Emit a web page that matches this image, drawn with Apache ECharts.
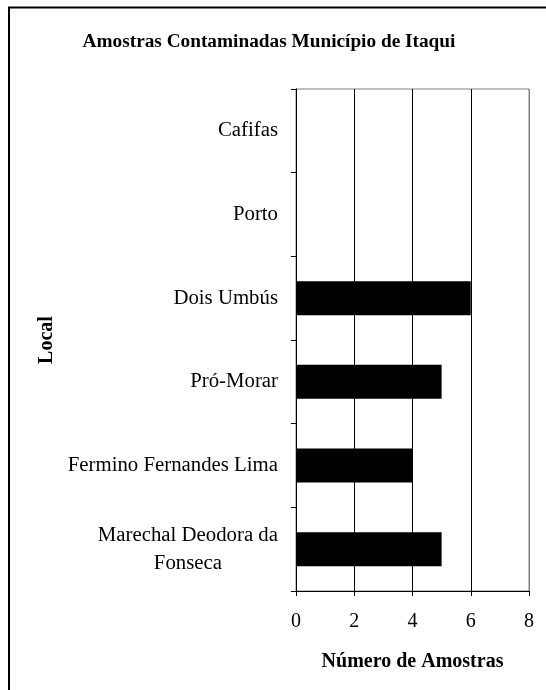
<!DOCTYPE html>
<html>
<head>
<meta charset="utf-8">
<script src="https://cdn.jsdelivr.net/npm/echarts@6/dist/echarts.min.js"></script>
<style>
html,body{margin:0;padding:0;background:#fff;}
#main{width:546px;height:690px;}
</style>
</head>
<body>
<div id="main"></div>
<script>
var categories = ['Marechal Deodora da Fonseca', 'Fermino Fernandes Lima', 'Pró-Morar', 'Dois Umbús', 'Porto', 'Cafifas'];
var values = [5, 4, 5, 6, 0, 0];
var xTicks = { min: 0, max: 8, interval: 2 };
var titleText = 'Amostras Contaminadas Município de Itaqui';
var xName = 'Número de Amostras';
var yName = 'Local';

var FONT = '"Liberation Serif", "Times New Roman", serif';
var chart = echarts.init(document.getElementById('main'), null, { renderer: 'canvas' });
chart.setOption({
  backgroundColor: '#fff',
  animation: false,
  graphic: [
    { type: 'rect', shape: { x: 9, y: 7.5, width: 600, height: 700 },
      style: { fill: 'none', stroke: '#000', lineWidth: 2 }, silent: true },
    { type: 'text', x: 269, y: 42,
      style: { text: titleText, font: 'bold 19.3px ' + FONT, fill: '#000', align: 'center', verticalAlign: 'middle' } }
  ],
  grid: { left: 296, right: 17, top: 89, bottom: 99, show: true, borderColor: '#808080', borderWidth: 1, backgroundColor: 'transparent' },
  xAxis: {
    type: 'value', min: xTicks.min, max: xTicks.max, interval: xTicks.interval,
    name: xName, nameLocation: 'middle', nameGap: 61,
    nameTextStyle: { fontFamily: FONT, fontSize: 20, fontWeight: 'bold', color: '#000' },
    axisLine: { show: true, lineStyle: { color: '#000', width: 1 } },
    axisTick: { show: true, inside: false, length: 5, lineStyle: { color: '#000' } },
    axisLabel: { fontFamily: FONT, fontSize: 20, color: '#000', margin: 21 },
    splitLine: { show: true, lineStyle: { color: ['#000', '#000', '#000', '#000', '#808080'], width: 1 } }
  },
  yAxis: {
    type: 'category', data: categories,
    name: yName, nameLocation: 'middle', nameGap: 239, nameRotate: 90,
    nameTextStyle: { fontFamily: FONT, fontSize: 20, fontWeight: 'bold', color: '#000' },
    axisLine: { show: true, lineStyle: { color: '#000', width: 1 } },
    axisTick: { show: true, inside: false, length: 5, lineStyle: { color: '#000' } },
    axisLabel: {
      fontFamily: FONT, fontSize: 20.8, color: '#000', margin: 18, lineHeight: 28,
      formatter: function (v) {
        if (v === 'Marechal Deodora da Fonseca') {
          return '{c|Marechal Deodora da}\n{c|Fonseca}';
        }
        return v;
      },
      rich: { c: { align: 'center', fontFamily: FONT, fontSize: 20.8, color: '#000', lineHeight: 28 } }
    },
    splitLine: { show: false }
  },
  series: [{
    type: 'bar', data: values, barWidth: 34,
    itemStyle: { color: '#000' }
  }]
});
</script>
</body>
</html>
